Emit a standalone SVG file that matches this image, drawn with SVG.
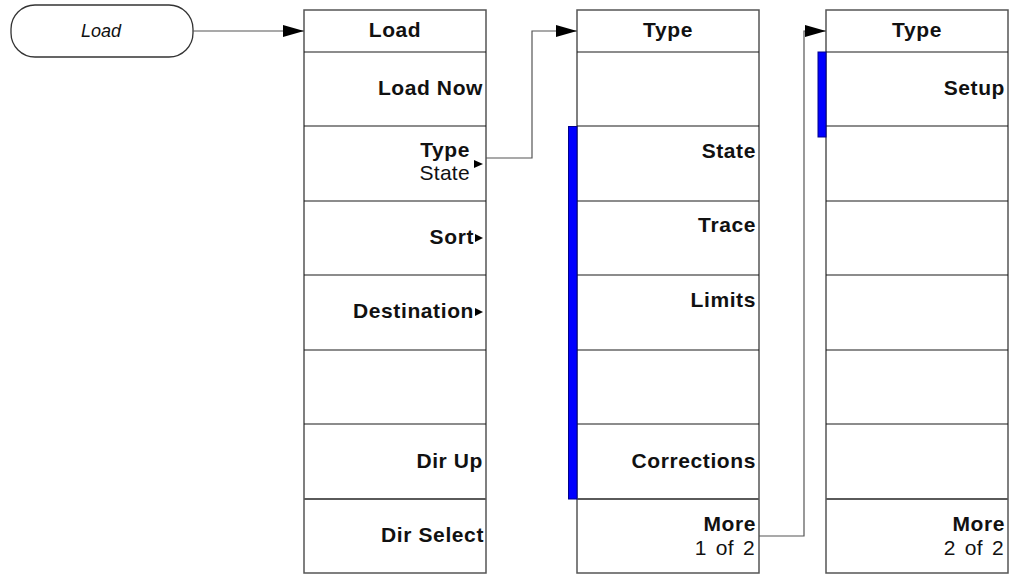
<svg xmlns="http://www.w3.org/2000/svg" width="1010" height="576" viewBox="0 0 1010 576">
<style>
  .panel { fill: #ffffff; stroke: #555555; stroke-width: 1.5; }
  .row { stroke: #1a1a1a; stroke-width: 1.2; fill: none; }
  .sep { stroke: #5a5a5a; stroke-width: 2; fill: none; }
  .bar { fill: #0000ff; stroke: #00008b; stroke-width: 1; }
  .conn { fill: none; stroke: #555555; stroke-width: 1.2; }
  .b { font-family: "Liberation Sans", Arial, sans-serif; font-weight: bold; font-size: 21px; letter-spacing: 0.6px; fill: #111111; }
  .r { font-family: "Liberation Sans", Arial, sans-serif; font-size: 21px; letter-spacing: 0.3px; fill: #111111; }
  .hd { text-anchor: middle; }
  .end { text-anchor: end; }
  .tri { fill: #000000; }
  .pill { fill: #ffffff; stroke: #333333; stroke-width: 1.3; }
  .it { font-family: "Liberation Sans", Arial, sans-serif; font-style: italic; font-size: 18px; fill: #111111; text-anchor: middle; }
</style>
<defs>
  <marker id="arr" viewBox="0 0 21 12" refX="21" refY="6" markerWidth="21" markerHeight="12" markerUnits="userSpaceOnUse" orient="auto">
    <path d="M0,0 L21,6 L0,12 Z" fill="#000000"/>
  </marker>
</defs>

<g id="load-key">
  <rect class="pill" x="11" y="5" width="182" height="52" rx="24" ry="24"/>
  <text class="it" x="101" y="37">Load</text>
</g>

<g id="menu-load">
  <rect class="panel" x="304" y="10" width="182" height="563"/>
  <path class="row" d="M304,52H486M304,126H486M304,201H486M304,275H486M304,350H486M304,424H486"/>
  <path class="sep" d="M304,499H486"/>
  <text class="b hd" x="395" y="37">Load</text>
  <text class="b end" x="483" y="95">Load Now</text>
  <text class="b end" x="470" y="157">Type</text>
  <text class="r end" x="470" y="180">State</text>
  <path class="tri" d="M474,160 L483,164 L474,168 Z"/>
  <text class="b end" x="474" y="244">Sort</text>
  <path class="tri" d="M475,234 L483,238 L475,242 Z"/>
  <text class="b end" x="474" y="318">Destination</text>
  <path class="tri" d="M475,308 L483,312 L475,316 Z"/>
  <text class="b end" x="483" y="468">Dir Up</text>
  <text class="b end" x="484" y="542">Dir Select</text>
</g>

<g id="menu-type-1">
  <rect class="panel" x="577" y="10" width="182" height="563"/>
  <path class="row" d="M577,52H759M577,126H759M577,201H759M577,275H759M577,350H759M577,424H759"/>
  <path class="sep" d="M577,499H759"/>
  <rect class="bar" x="568.5" y="126.5" width="8.5" height="372.5"/>
  <text class="b hd" x="668" y="37">Type</text>
  <text class="b end" x="756" y="158">State</text>
  <text class="b end" x="756" y="232">Trace</text>
  <text class="b end" x="756" y="307">Limits</text>
  <text class="b end" x="756" y="468">Corrections</text>
  <text class="b end" x="756" y="531">More</text>
  <text class="r end" x="755" y="555" word-spacing="3">1 of 2</text>
</g>

<g id="menu-type-2">
  <rect class="panel" x="826" y="10" width="182" height="563"/>
  <path class="row" d="M826,52H1008M826,126H1008M826,201H1008M826,275H1008M826,350H1008M826,424H1008"/>
  <path class="sep" d="M826,499H1008"/>
  <rect class="bar" x="818" y="52" width="8" height="85"/>
  <text class="b hd" x="917" y="37">Type</text>
  <text class="b end" x="1005" y="95">Setup</text>
  <text class="b end" x="1005" y="531">More</text>
  <text class="r end" x="1004" y="555" word-spacing="3">2 of 2</text>
</g>

<g id="connectors">
  <path class="conn" d="M193,31 H304" marker-end="url(#arr)"/>
  <path class="conn" d="M486,158 H532 V31 H577" marker-end="url(#arr)"/>
  <path class="conn" d="M759,536 H804 V31 H826" marker-end="url(#arr)"/>
</g>
</svg>
